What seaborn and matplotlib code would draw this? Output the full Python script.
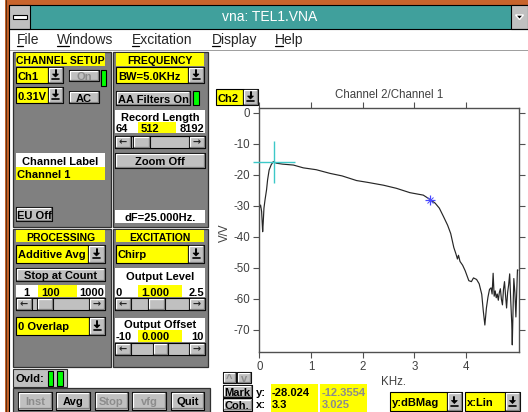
"""Screenshot-style recreation of the VNA window: control panels on the left,
Channel 2/Channel 1 transfer function on the right.

Writes out.png (528x412 px).
"""

import matplotlib
matplotlib.use('Agg')

import pandas as pd
import matplotlib.pyplot as plt
import seaborn as sns
from matplotlib import font_manager
from matplotlib.patches import Rectangle, Polygon

# ---- chart data ----
freq_khz = [0.00, 0.025, 0.045, 0.065, 0.075, 0.09, 0.11, 0.14, 0.16, 0.19,
            0.23, 0.27, 0.33, 0.45, 0.66, 0.85, 1.10, 1.37, 1.60, 1.88,
            2.10, 2.40, 2.65, 2.91, 3.17, 3.30, 3.40, 3.48, 3.56, 3.64,
            3.70, 3.76, 3.80, 3.83, 3.85, 3.88, 3.93, 3.98, 4.05, 4.10,
            4.14, 4.20, 4.25, 4.30, 4.33, 4.36, 4.39, 4.42, 4.45, 4.48,
            4.50, 4.52, 4.54, 4.56, 4.58, 4.60, 4.62, 4.64, 4.66, 4.68,
            4.70, 4.72, 4.74, 4.76, 4.78, 4.80, 4.82, 4.84, 4.86, 4.88,
            4.89, 4.91, 4.92, 4.94, 4.96, 4.98, 4.99, 5.00]
mag_db = [-30.8, -29.8, -31.9, -38.4, -35.7, -30.8, -28.2, -24.9, -21.7, -18.5,
          -16.8, -15.8, -16.3, -16.6, -16.9, -17.8, -18.4, -19.6, -20.4, -21.9,
          -22.5, -23.4, -24.4, -25.8, -26.6, -28.0, -29.2, -30.8, -33.5, -36.3,
          -39.0, -43.5, -45.5, -47.2, -46.0, -48.0, -49.2, -51.0, -54.2, -54.5,
          -53.3, -53.8, -55.2, -58.6, -64.0, -68.5, -63.0, -59.5, -57.0, -56.5,
          -58.5, -51.8, -59.2, -57.5, -59.7, -58.5, -60.5, -58.0, -56.8, -60.2,
          -62.0, -57.0, -54.5, -59.0, -63.0, -58.0, -55.5, -52.0, -60.5, -68.0,
          -74.9, -60.0, -53.5, -58.0, -65.9, -56.0, -50.7, -50.8]

cursor_khz = [0.275]
cursor_db = [-15.8]
mark_khz = [3.3]
mark_db = [-28.024]
ref_readout = ['-12.3554', '3.025']

x_ticks = [0, 1, 2, 3, 4]
y_ticks = [0, -10, -20, -30, -40, -50, -60, -70]

menu_items = ['File', 'Windows', 'Excitation', 'Display', 'Help']

# ---- colours ----
TEAL = '#40a09c'
ORANGE = '#c8642c'
PANEL = '#808080'
BTN = '#c0c0c0'
SHADOW = '#808080'
YELLOW = '#ffff00'
GREEN = '#00ff00'
GREYTXT = '#8c8c8c'

sns.set_style('white')
plt.rcParams['font.family'] = ['Liberation Sans', 'DejaVu Sans']
plt.rcParams['axes.unicode_minus'] = False

# Win3.1 system font is narrow and bold; use the narrow Liberation face if present.
_names = {f.name for f in font_manager.fontManager.ttflist}
if 'Liberation Sans Narrow' in _names:
    UI_FAMILY, UI_SIZE, HEAD_SIZE = ['Liberation Sans Narrow', 'DejaVu Sans'], 9.4, 9.0
else:
    UI_FAMILY, UI_SIZE, HEAD_SIZE = ['Liberation Sans', 'DejaVu Sans'], 8.0, 7.5

fig = plt.figure(figsize=(5.28, 4.12), dpi=100)
fig.patch.set_facecolor('white')

# pixel-space canvas for the window chrome
gui = fig.add_axes([0, 0, 1, 1], zorder=0)
gui.set_xlim(0, 528)
gui.set_ylim(412, 0)
gui.axis('off')


def box(x0, y0, x1, y1, face, edge='none', lw=0.8, z=1):
    gui.add_patch(Rectangle((x0, y0), x1 - x0, y1 - y0, facecolor=face,
                            edgecolor=edge, linewidth=lw, zorder=z))


def txt(x, y, s, ha='left', color='black', size=None, bold=True, z=5):
    gui.text(x, y, s, ha=ha, va='center_baseline', color=color,
             fontsize=size or UI_SIZE, fontweight='bold' if bold else 'normal',
             family=UI_FAMILY, zorder=z)


def bevel(x0, y0, x1, y1, face=BTN, z=2):
    box(x0, y0, x1, y1, face, '#000000', 0.8, z)
    gui.plot([x0 + 1.2, x0 + 1.2, x1 - 1.2], [y1 - 1.2, y0 + 1.2, y0 + 1.2],
             color='white', lw=0.9, zorder=z + 0.1)
    gui.plot([x0 + 1.2, x1 - 1.2, x1 - 1.2], [y1 - 1.2, y1 - 1.2, y0 + 1.2],
             color=SHADOW, lw=0.9, zorder=z + 0.1)


def button(x0, y0, x1, y1, label, enabled=True):
    bevel(x0, y0, x1, y1)
    txt((x0 + x1) / 2, (y0 + y1) / 2 + 0.5, label, ha='center',
        color='black' if enabled else GREYTXT)


def down_arrow(cx, cy):
    gui.add_patch(Polygon([(cx - 3, cy), (cx + 3, cy), (cx, cy + 3)],
                          closed=True, facecolor='black', edgecolor='black',
                          lw=0.5, zorder=4))
    gui.plot([cx, cx], [cy - 4, cy], color='black', lw=1.4, zorder=4)
    gui.plot([cx - 3.5, cx + 3.5], [cy + 5, cy + 5], color='black', lw=1.2, zorder=4)


def combo(x0, y0, xa, x1, y1, label):
    box(x0, y0, xa, y1, YELLOW, '#000000', 0.8, 2)
    txt(x0 + 2, (y0 + y1) / 2 + 0.5, label)
    bevel(xa, y0, x1, y1)
    down_arrow((xa + x1) / 2, (y0 + y1) / 2 - 1)


def scrollbar(x0, y0, x1, y1, thumb0, thumb1):
    box(x0, y0, x1, y1, BTN, '#000000', 0.8, 2)
    w = 16
    bevel(x0, y0, x0 + w, y1)
    bevel(x1 - w, y0, x1, y1)
    bevel(thumb0, y0, thumb1, y1)
    for cx, s in ((x0 + w / 2, '\u2190'), (x1 - w / 2, '\u2192')):
        gui.text(cx, (y0 + y1) / 2, s, ha='center', va='center', fontsize=7,
                 fontweight='bold', family='DejaVu Sans', zorder=5)


def range_row(x0, x1, y0, y1, lo, val, hi, yx0, yx1):
    box(yx0, y0, yx1, y1, YELLOW, z=2)
    ym = (y0 + y1) / 2 + 0.5
    txt(x0 + 1, ym, lo)
    txt(yx0 + 3, ym, val)
    txt(x1 - 1, ym, hi, ha='right')


# ---- window frame ----
box(5, 0, 528, 4.5, ORANGE)
box(5, 0, 8.5, 412, ORANGE)
gui.plot([5.5, 5.5], [0, 412], color='#603010', lw=0.8)
gui.plot([8.5, 8.5], [4.5, 412], color='black', lw=0.8)
gui.plot([8.5, 528], [4.8, 4.8], color='black', lw=0.8)

# title bar
box(8.5, 5, 528, 28.5, TEAL)
box(8.5, 5, 30, 28.5, BTN, 'black', 0.8, 2)
box(12.5, 15, 26.5, 18.5, 'white', 'black', 0.8, 3)
box(510.5, 5, 528, 28.5, BTN, 'black', 0.8, 2)
gui.add_patch(Polygon([(515.5, 15), (523.5, 15), (519.5, 19.5)], closed=True,
                      facecolor='black', zorder=3))
gui.text(270, 17, 'vna: TEL1.VNA', ha='center', va='center', color='white',
         fontsize=10, family=['Liberation Sans', 'DejaVu Sans'])

# menu bar
box(8.5, 28.5, 528, 49.5, 'white')
gui.plot([8.5, 528], [28.8, 28.8], color='black', lw=0.8)
box(8.5, 49.5, 528, 51.2, '#a0a0a0')
menu_x = [17.3, 56.7, 132.3, 211.7, 275]
under_w = [6, 12, 7, 8, 8]
for x, w, item in zip(menu_x, under_w, menu_items):
    gui.text(x, 39.5, item, ha='left', va='center', fontsize=10,
             family=['Liberation Sans', 'DejaVu Sans'])
    gui.plot([x, x + w], [46.2, 46.2], color='black', lw=0.9)

# ---- left control panels ----
box(8.5, 51.2, 210, 412, 'white')
for x0, y0, x1, y1 in [(12.5, 51.5, 110.5, 226.5), (112.5, 51.5, 208, 226.5),
                       (12.5, 228.5, 110.5, 366.5), (112.5, 228.5, 208, 366.5)]:
    box(x0, y0, x1, y1, PANEL, '#303030', 0.9)

# CHANNEL SETUP
box(16, 53, 105, 65.5, YELLOW, z=2)
txt(60.5, 59.8, 'CHANNEL SETUP', ha='center', size=HEAD_SIZE)
combo(16, 67, 48, 63, 83, 'Ch1')
button(69, 70, 99, 81, 'On', enabled=False)
box(101, 70, 106, 86, GREEN, 'black', 0.8, 2)
combo(16, 87, 48, 63, 103, '0.31V')
button(69, 91, 99, 103, 'AC')
box(16, 153, 105, 167, 'white', z=2)
txt(60.5, 160.5, 'Channel Label', ha='center')
box(16, 167, 105, 180, YELLOW, z=2)
txt(17, 174, 'Channel 1')
button(16, 207, 52, 221, 'EU Off')

# FREQUENCY
box(116, 53, 204, 65.5, YELLOW, z=2)
txt(160, 59.8, 'FREQUENCY', ha='center', size=HEAD_SIZE)
combo(116, 67, 188, 204, 83, 'BW=5.0KHz')
button(116, 91, 190, 105, 'AA Filters On')
box(193, 91, 199, 105, GREEN, 'black', 0.8, 2)
box(115, 110, 205, 133, 'white', z=1.5)
txt(160, 116.5, 'Record Length', ha='center')
range_row(115, 205, 122, 133, '64', '512', '8192', 138, 176)
scrollbar(115, 136, 205, 148, 133, 150)
button(115, 153, 205, 168, 'Zoom Off')
box(115, 210, 205, 223, 'white', z=2)
txt(160, 217, 'dF=25.000Hz.', ha='center')

# PROCESSING
box(16, 230, 105, 242, YELLOW, z=2)
txt(60.5, 236.5, 'PROCESSING', ha='center', size=HEAD_SIZE)
combo(16, 245, 88, 105, 263, 'Additive Avg')
button(16, 268, 105, 281, 'Stop at Count')
box(16, 285, 105, 297, 'white', z=1.5)
range_row(16, 105, 285, 297, '', '100', '1000', 38, 77)
txt(23, 291.5, '1')
scrollbar(16, 298, 105, 310, 37, 53)
combo(16, 317, 89, 105, 335, '0 Overlap')

# EXCITATION
box(116, 230, 204, 242, YELLOW, z=2)
txt(160, 236.5, 'EXCITATION', ha='center', size=HEAD_SIZE)
combo(116, 245, 188, 204, 263, 'Chirp')
box(115, 268, 205, 297, 'white', z=1.5)
txt(160, 276, 'Output Level', ha='center')
range_row(115, 205, 285, 297, '0', '1.000', '2.5', 138, 182)
scrollbar(115, 298, 205, 310, 148, 165)
box(115, 318, 205, 342, 'white', z=1.5)
txt(160, 324.5, 'Output Offset', ha='center')
range_row(115, 205, 330, 342, '-10', '0.000', '10', 138, 182)
scrollbar(115, 343, 205, 355, 153, 168)

# overload indicator and command buttons
box(13, 369, 66.5, 386.5, BTN, '#303030', 0.8, 2)
txt(16, 378.5, 'Ovld:')
box(48.3, 371, 53.3, 385.5, GREEN, 'black', 0.8, 3)
box(57.3, 371, 63.3, 385.5, GREEN, 'black', 0.8, 3)
box(12.5, 387.5, 210, 412, PANEL, '#303030', 0.9)
for x0, x1, lab, on in [(18, 52, 'Inst', False), (56, 90, 'Avg', True),
                        (95, 128, 'Stop', False), (132, 166, 'vfg', False),
                        (171, 204, 'Quit', True)]:
    button(x0, 392, x1, 409.5, lab, enabled=on)

# ---- chart side controls ----
combo(215.5, 89, 243, 258, 105, 'Ch2')
button(222.7, 371.5, 236, 383.3, '^', enabled=False)
button(237, 371.5, 251, 383.3, 'v', enabled=False)
button(222.7, 385, 252, 397, 'Mark')
button(222.7, 398.3, 252, 410.5, 'Coh.')
txt(256, 391.5, 'y:')
txt(256, 404.5, 'x:')
box(270.7, 383.5, 317.7, 412, YELLOW, z=2)
box(320, 383.5, 367.3, 412, YELLOW, z=2)
txt(272, 391.5, f'{mark_db[0]:.3f}')
txt(272, 404.5, f'{mark_khz[0]:g}')
txt(321.5, 391.5, ref_readout[0], color=GREYTXT)
txt(321.5, 404.5, ref_readout[1], color=GREYTXT)
combo(390, 392, 446.7, 462, 411, 'y:dBMag')
combo(465, 392, 505, 520, 411, 'x:Lin')

# ---- the transfer-function plot ----
L, R, T, B = 259.3, 519.0, 107.7, 352.0
ax = fig.add_axes([L / 528, 1 - B / 412, (R - L) / 528, (B - T) / 412], zorder=1)
df = pd.DataFrame({'freq': freq_khz, 'mag': mag_db})
sns.lineplot(data=df, x='freq', y='mag', ax=ax, color='#262626', lw=0.85,
             sort=False, estimator=None)
ax.plot(cursor_khz, cursor_db, ls='none', marker='+', ms=30, mew=1,
        color='#3cc8c8', clip_on=False, zorder=4)
ax.plot(mark_khz, mark_db, ls='none', marker='+', ms=7, mew=0.9, color='#4848ff', zorder=4)
ax.plot(mark_khz, mark_db, ls='none', marker='x', ms=4.5, mew=0.7, color='#4848ff', zorder=4)

ax.set_xlim(0, 5.02)
ax.set_ylim(-77.2, 1.6)
ax.set_xticks(x_ticks)
ax.set_yticks(y_ticks)
ax.tick_params(direction='out', length=4, width=0.8, color='#505050',
               labelcolor='#404040', labelsize=8.3, pad=2.5,
               top=True, right=True, bottom=True, left=True,
               labeltop=False, labelright=False)
for s in ax.spines.values():
    s.set_color('#505050')
    s.set_linewidth(1)
ax.set_title('Channel 2/Channel 1', fontsize=8.3, color='#404040', pad=7)
ax.set_xlabel('KHz.', fontsize=8.3, color='#404040')
ax.xaxis.set_label_coords(0.5175, -(381.7 - B) / (B - T))
ax.xaxis.label.set_va('center')
ax.set_ylabel('V/V', fontsize=8.3, color='#404040')
ax.yaxis.set_label_coords(-(L - 225) / (R - L), 0.49)
ax.yaxis.label.set_va('center')

plt.savefig('out.png', dpi=100)
plt.close()
